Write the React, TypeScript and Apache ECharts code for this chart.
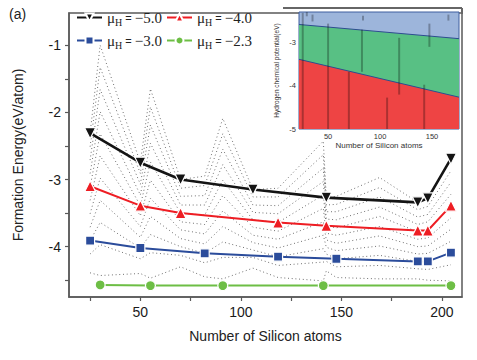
import { useEffect, useRef } from "react";
import * as echarts from "echarts";

// ---- main series (Number of Si atoms, formation energy eV/atom) ----
const blackX = [25, 50, 70, 106, 142.5, 188, 193, 204.5];
const blackY = [-2.31, -2.75, -3.0, -3.15, -3.27, -3.34, -3.28, -2.69];
const redX = [25, 50, 70, 118.5, 142.5, 188, 193, 204.5];
const redY = [-3.1, -3.39, -3.5, -3.64, -3.69, -3.76, -3.76, -3.39];
const blueX = [25, 50, 82, 118.5, 147.5, 188, 193, 204.5];
const blueY = [-3.91, -4.02, -4.1, -4.15, -4.18, -4.22, -4.22, -4.09];
const greenX = [30, 55, 91, 141, 204.5];
const greenY = [-4.57, -4.58, -4.58, -4.58, -4.58];

// ---- dotted family (intermediate chemical potentials) ----
const dotX = [25, 30, 50, 55, 70, 82, 91, 106, 118.5, 141, 142.5, 147.5, 169, 188, 193, 204.5];
const dotMu500 = [-2.31, -1.0, -2.75, -1.65, -3.0, -2.95, -2.09, -3.15, -3.13, -2.43, -3.27, -3.25, -2.97, -3.34, -3.28, -2.69];
const dotMu475 = [-2.51, -1.33, -2.91, -1.92, -3.13, -3.09, -2.32, -3.26, -3.26, -2.63, -3.38, -3.37, -3.12, -3.45, -3.4, -2.87];
const dotMu450 = [-2.71, -1.66, -3.07, -2.19, -3.25, -3.24, -2.55, -3.38, -3.39, -2.83, -3.48, -3.48, -3.26, -3.56, -3.52, -3.04];
const dotMu425 = [-2.91, -1.99, -3.23, -2.46, -3.38, -3.38, -2.78, -3.49, -3.51, -3.03, -3.59, -3.6, -3.41, -3.67, -3.63, -3.22];
const dotMu400 = [-3.11, -2.32, -3.39, -2.74, -3.5, -3.53, -3.01, -3.6, -3.64, -3.23, -3.69, -3.72, -3.55, -3.78, -3.75, -3.39];
const dotMu375 = [-3.31, -2.65, -3.54, -3.01, -3.63, -3.67, -3.24, -3.71, -3.77, -3.43, -3.8, -3.83, -3.7, -3.89, -3.87, -3.57];
const dotMu350 = [-3.51, -2.98, -3.7, -3.28, -3.75, -3.81, -3.47, -3.83, -3.89, -3.63, -3.9, -3.95, -3.84, -4.0, -3.99, -3.74];
const dotMu325 = [-3.71, -3.31, -3.86, -3.55, -3.88, -3.96, -3.7, -3.94, -4.02, -3.83, -4.01, -4.06, -3.99, -4.11, -4.1, -3.92];
const dotMu300 = [-3.91, -3.64, -4.02, -3.82, -4.0, -4.1, -3.93, -4.05, -4.15, -4.03, -4.11, -4.18, -4.13, -4.22, -4.22, -4.09];
const dotMu275 = [-4.11, -3.97, -4.18, -4.09, -4.13, -4.24, -4.16, -4.16, -4.28, -4.23, -4.22, -4.3, -4.28, -4.33, -4.34, -4.27];
const dotMu240 = [-4.39, -4.43, -4.4, -4.47, -4.3, -4.45, -4.48, -4.32, -4.46, -4.51, -4.36, -4.46, -4.48, -4.48, -4.5, -4.51];
const dotFamily = [dotMu500, dotMu475, dotMu450, dotMu425, dotMu400, dotMu375, dotMu350, dotMu325, dotMu300, dotMu275, dotMu240];

// ---- axis ticks ----
const xLabels = [50, 100, 150, 200];
const xTicks = [25, 50, 75, 100, 125, 150, 175, 200];
const yLabels = [-4, -3, -2, -1];
const yTicks = [-4.5, -4, -3.5, -3, -2.5, -2, -1.5, -1];

// ---- inset (phase diagram) ----
const insetXLabels = [50, 100, 150];
const insetYLabels = [-5, -4, -3];
const insetBlueGreenX = [22, 176];
const insetBlueGreenY = [-2.57, -2.9];
const insetGreenRedX = [22, 176];
const insetGreenRedY = [-3.38, -4.26];
const insetBarX = [25.6, 29.5, 35, 50, 70, 82.6, 83.6, 106.8, 118.4, 142.5, 147.5, 165.8];
const insetBarTop = [-2.3, -2.28, -2.34, -2.55, -3.67, -2.69, -2.37, -4.27, -2.88, -3.97, -2.55, -2.34];
const insetBarBottom = [-5, -2.38, -2.5, -5, -5, -3.67, -2.48, -5, -4.2, -5, -3.09, -2.48];

const legendValues: Record<string, string> = {
  "μH = −5.0": "−5.0",
  "μH = −4.0": "−4.0",
  "μH = −3.0": "−3.0",
  "μH = −2.3": "−2.3",
};

const zip = (xs: number[], ys: number[]) => xs.map((x, i) => [x, ys[i]]);

const axisColor = "#5a5a5a";
const sans = "Liberation Sans";
const serif = "Liberation Serif";

const legendText = {
  color: "#222",
  rich: {
    m: { fontFamily: serif, fontSize: 15, color: "#222" },
    s: { fontFamily: serif, fontSize: 10, color: "#222", padding: [9, 0, 0, 0] },
    e: { fontFamily: sans, fontSize: 11, color: "#222" },
    v: { fontFamily: serif, fontSize: 15, color: "#222" },
  },
};
const legendFormatter = (name: string) => `{m|μ}{s|H}{e| = }{v|${legendValues[name]}}`;

function buildOption() {
  const dottedSeries = dotFamily.map((ys) => ({
    type: "line",
    xAxisIndex: 0,
    yAxisIndex: 0,
    data: zip(dotX, ys),
    showSymbol: false,
    silent: true,
    z: 2,
    lineStyle: { color: "#3a3a3a", width: 0.8, type: [0.9, 2.8] },
  }));

  const mainLine = (name: string, xs: number[], ys: number[], color: string, symbol: string, size: number, width: number, rotate = 0) => ({
    name,
    type: "line",
    xAxisIndex: 0,
    yAxisIndex: 0,
    data: zip(xs, ys),
    symbol,
    symbolSize: size,
    symbolRotate: rotate,
    showSymbol: true,
    z: 5,
    lineStyle: { color, width },
    itemStyle: { color, borderColor: "#fff", borderWidth: 1.2 },
  });

  return {
    animation: false,
    backgroundColor: "#fff",
    grid: [
      { left: 69, top: 13, width: 393, height: 284, show: true, borderColor: axisColor, borderWidth: 1.5, backgroundColor: "transparent" },
      { left: 299, top: 12, width: 160, height: 117, show: true, borderColor: "#3f5f9f", borderWidth: 1, backgroundColor: "#9db5db", z: 6 },
    ],
    xAxis: [
      {
        gridIndex: 0,
        type: "value",
        min: 14.5,
        max: 210,
        splitLine: { show: false },
        axisLine: { lineStyle: { color: axisColor, width: 1.5 } },
        axisTick: { show: true, length: 4, customValues: xTicks, lineStyle: { color: axisColor, width: 1.2 } },
        axisLabel: { customValues: xLabels, fontSize: 14, fontFamily: sans, color: "#1a1a1a", margin: 8 },
        name: "Number of Silicon atoms",
        nameLocation: "middle",
        nameGap: 32,
        nameTextStyle: { fontSize: 14, fontFamily: sans, color: "#222" },
      },
      {
        gridIndex: 1,
        type: "value",
        min: 22,
        max: 176,
        z: 6,
        splitLine: { show: false },
        axisLine: { show: false },
        axisTick: { show: false },
        axisLabel: { customValues: insetXLabels, fontSize: 7.5, fontFamily: sans, color: "#333", margin: 3 },
        name: "Number of Silicon atoms",
        nameLocation: "middle",
        nameGap: 12,
        nameTextStyle: { fontSize: 8, fontFamily: sans, color: "#333" },
      },
    ],
    yAxis: [
      {
        gridIndex: 0,
        type: "value",
        min: -4.75,
        max: -0.52,
        splitLine: { show: false },
        axisLine: { lineStyle: { color: axisColor, width: 1.5 } },
        axisTick: { show: true, length: 4, customValues: yTicks, lineStyle: { color: axisColor, width: 1.2 } },
        axisLabel: { customValues: yLabels, fontSize: 14, fontFamily: sans, color: "#1a1a1a", margin: 8 },
        name: "Formation Energy(eV/atom)",
        nameLocation: "middle",
        nameGap: 44,
        nameTextStyle: { fontSize: 14, fontFamily: sans, color: "#222" },
      },
      {
        gridIndex: 1,
        type: "value",
        min: -5,
        max: -2.28,
        z: 6,
        splitLine: { show: false },
        axisLine: { show: false },
        axisTick: { show: false },
        axisLabel: { customValues: insetYLabels, fontSize: 7.5, fontFamily: sans, color: "#333", margin: 3 },
        name: "Hydrogen chemical potential(eV)",
        nameLocation: "middle",
        nameGap: 19,
        nameTextStyle: { fontSize: 6.5, fontFamily: sans, color: "#333" },
      },
    ],
    legend: [
      {
        data: ["μH = −5.0", "μH = −4.0"],
        left: 71,
        top: 5,
        itemWidth: 25,
        itemHeight: 10,
        itemGap: 4,
        formatter: legendFormatter,
        textStyle: legendText,
      },
      {
        data: ["μH = −3.0", "μH = −2.3"],
        left: 71,
        top: 28,
        itemWidth: 25,
        itemHeight: 10,
        itemGap: 4,
        formatter: legendFormatter,
        textStyle: legendText,
      },
    ],
    graphic: [
      { type: "text", left: 9, top: 7, style: { text: "(a)", fontSize: 14, fontFamily: sans, fill: "#222" } },
      { type: "line", shape: { x1: 283, y1: 8, x2: 462, y2: 8 }, style: { stroke: "#666", lineWidth: 2 }, z: 10 },
      { type: "line", shape: { x1: 462, y1: 8, x2: 462, y2: 14 }, style: { stroke: "#666", lineWidth: 2 }, z: 10 },
    ],
    series: [
      ...dottedSeries,
      mainLine("μH = −5.0", blackX, blackY, "#141414", "triangle", 11, 2.6, 180),
      mainLine("μH = −4.0", redX, redY, "#ee1d23", "triangle", 11, 2),
      mainLine("μH = −3.0", blueX, blueY, "#2b4c9b", "rect", 9, 2),
      mainLine("μH = −2.3", greenX, greenY, "#6dbe45", "circle", 10, 2),
      {
        type: "line",
        xAxisIndex: 1,
        yAxisIndex: 1,
        data: zip(insetBlueGreenX, insetBlueGreenY),
        showSymbol: false,
        silent: true,
        z: 7,
        lineStyle: { color: "#2d4d8f", width: 1 },
        areaStyle: { color: "#58c084", opacity: 1, origin: "start" },
      },
      {
        type: "line",
        xAxisIndex: 1,
        yAxisIndex: 1,
        data: zip(insetGreenRedX, insetGreenRedY),
        showSymbol: false,
        silent: true,
        z: 8,
        lineStyle: { color: "#2d4d8f", width: 1 },
        areaStyle: { color: "#ee4444", opacity: 1, origin: "start" },
      },
      {
        type: "custom",
        xAxisIndex: 1,
        yAxisIndex: 1,
        silent: true,
        z: 9,
        data: insetBarX.map((x, i) => [x, insetBarTop[i], insetBarBottom[i]]),
        encode: { x: 0, y: [1, 2] },
        renderItem: (_params: any, api: any) => {
          const a = api.coord([api.value(0), api.value(1)]);
          const b = api.coord([api.value(0), api.value(2)]);
          return {
            type: "line",
            shape: { x1: a[0], y1: a[1], x2: b[0], y2: b[1] },
            style: { stroke: "rgba(0,0,0,0.28)", lineWidth: 2 },
          };
        },
      },
    ],
  };
}

export default function App() {
  const ref = useRef<HTMLDivElement>(null);
  useEffect(() => {
    if (!ref.current) return;
    const chart = echarts.init(ref.current, null, { renderer: "svg" });
    chart.setOption(buildOption() as any);
    return () => chart.dispose();
  }, []);
  return <div ref={ref} style={{ position: "absolute", left: 0, top: 0, width: 477, height: 360 }} />;
}
